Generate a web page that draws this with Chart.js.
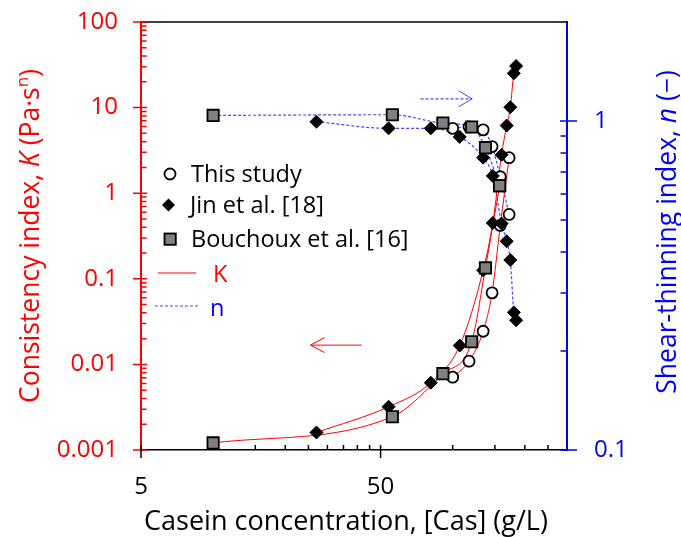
<!DOCTYPE html>
<html>
<head>
<meta charset="utf-8">
<script src="https://cdn.jsdelivr.net/npm/chart.js@4.4.0/dist/chart.umd.min.js"></script>
<style>
  html, body { margin: 0; padding: 0; background: #fff; }
  #wrap { width: 681px; height: 537px; }
</style>
</head>
<body>
<div id="wrap"><canvas id="chart" width="681" height="537"></canvas></div>
<script>
// This study
const casThis = [100, 117, 134, 146, 158, 172];
const kThis = [0.0071, 0.0109, 0.0244, 0.0685, 0.42, 2.6];
const nThis = [0.95, 0.96, 0.94, 0.836, 0.677, 0.52];

// Jin et al. [18]
const casJin = [27, 54, 81, 107, 134, 147, 160, 168, 174, 180, 184];
const kJin = [0.0016, 0.0032, 0.0061, 0.0166, 0.126, 0.449, 2.81, 6.17, 10.1, 25.2, 30.6];
const nJin = [0.995, 0.95, 0.95, 0.895, 0.774, 0.681, 0.488, 0.431, 0.378, 0.262, 0.248];

// Bouchoux et al. [16]
const casBou = [10, 56, 91, 120, 137, 157];
const kBou = [0.00121, 0.00245, 0.0078, 0.0184, 0.134, 1.22];
const nBou = [1.04, 1.045, 0.986, 0.959, 0.83, 0.636];

// axes
const xTickValues = [5, 50];
const xTickLabels = ['5', '50'];
const xMinorTicks = [15, 20, 25, 30, 35, 40, 45, 100, 150, 200, 250];
const kTickValues = [0.001, 0.01, 0.1, 1, 10, 100];
const kTickLabels = ['0.001', '0.01', '0.1', '1', '10', '100'];
const nTickValues = [0.1, 1];
const nTickLabels = ['0.1', '1'];
const nMinorTicks = [0.2, 0.3, 0.4, 0.5, 0.6, 0.7, 0.8, 0.9];

const RED = '#ff0000';
const BLUE = '#0000ff';
const DOT_BLUE = 'rgba(40,40,255,0.85)';
const FONT = '"Open Sans", sans-serif';

const pts = (xs, ys) => xs.map((x, i) => ({ x: x, y: ys[i] }));

function kLine(xs, ys) {
  return { data: pts(xs, ys), yAxisID: 'y', borderColor: RED, borderWidth: 1,
    pointRadius: 0, cubicInterpolationMode: 'monotone', order: 10 };
}
function nLine(xs, ys) {
  return { data: pts(xs, ys), yAxisID: 'y2', borderColor: DOT_BLUE, borderWidth: 1.2,
    borderDash: [3, 2], pointRadius: 0, cubicInterpolationMode: 'monotone', order: 10 };
}

const circleStyle = { pointStyle: 'circle', pointRadius: 5.5, pointBackgroundColor: '#fff',
  pointBorderColor: '#000', pointBorderWidth: 1.8, order: 3 };
const diamondStyle = { pointStyle: 'rectRot', pointRadius: 6.5, pointBackgroundColor: '#000',
  pointBorderColor: '#000', pointBorderWidth: 1, order: 2 };
const squareStyle = { pointStyle: 'rect', pointRadius: 8, pointBackgroundColor: '#808080',
  pointBorderColor: '#000', pointBorderWidth: 1.8, order: 1 };

function marks(xs, ys, axis, style) {
  return Object.assign({ data: pts(xs, ys), yAxisID: axis, showLine: false }, style);
}

// custom drawing: tick marks, top border, titles, legend, arrows
const decor = {
  id: 'decor',
  afterDraw(chart) {
    const ctx = chart.ctx;
    const a = chart.chartArea;
    const sx = chart.scales.x, sy = chart.scales.y, sn = chart.scales.y2;
    ctx.save();

    // top border
    ctx.strokeStyle = '#000';
    ctx.lineWidth = 1.3;
    ctx.beginPath();
    ctx.moveTo(a.left, a.top);
    ctx.lineTo(a.right, a.top);
    ctx.stroke();

    // left ticks
    ctx.strokeStyle = RED;
    ctx.lineWidth = 1.5;
    ctx.beginPath();
    kTickValues.forEach(v => {
      const y = sy.getPixelForValue(v);
      ctx.moveTo(a.left - 8, y); ctx.lineTo(a.left + 6, y);
      if (v < 100) {
        for (let m = 2; m <= 9; m++) {
          const ym = sy.getPixelForValue(v * m);
          ctx.moveTo(a.left, ym); ctx.lineTo(a.left + 5.5, ym);
        }
      }
    });
    ctx.stroke();

    // right ticks
    ctx.strokeStyle = BLUE;
    ctx.beginPath();
    nTickValues.forEach(v => {
      const y = sn.getPixelForValue(v);
      ctx.moveTo(a.right - 7, y); ctx.lineTo(a.right + 10, y);
    });
    nMinorTicks.forEach(v => {
      const y = sn.getPixelForValue(v);
      ctx.moveTo(a.right - 6.5, y); ctx.lineTo(a.right, y);
    });
    ctx.stroke();

    // bottom ticks
    ctx.strokeStyle = '#000';
    ctx.beginPath();
    xTickValues.forEach(v => {
      const x = sx.getPixelForValue(v);
      ctx.moveTo(x, a.bottom - 5); ctx.lineTo(x, a.bottom + 8);
    });
    xMinorTicks.forEach(v => {
      const x = sx.getPixelForValue(v);
      ctx.moveTo(x, a.bottom - 5); ctx.lineTo(x, a.bottom);
    });
    ctx.stroke();

    // axis titles
    richText(ctx, [{ t: 'Casein concentration, [Cas] (g/L)' }], 346, 530, 0, '#000', 27);
    richText(ctx, [{ t: 'Consistency index, ' }, { t: 'K', italic: true }, { t: ' (Pa·s' },
      { t: 'n', sup: true }, { t: ')' }], 39, 236, -Math.PI / 2, RED, 26.5);
    richText(ctx, [{ t: 'Shear-thinning index, ' }, { t: 'n', italic: true }, { t: ' (−)' }],
      676, 232, -Math.PI / 2, BLUE, 26.5);

    // legend
    ctx.lineWidth = 1.8;
    ctx.strokeStyle = '#000';
    ctx.fillStyle = '#fff';
    ctx.beginPath(); ctx.arc(170, 174, 5.5, 0, Math.PI * 2); ctx.fill(); ctx.stroke();
    ctx.fillStyle = '#000';
    ctx.beginPath();
    ctx.moveTo(168.5, 198.5); ctx.lineTo(175, 205); ctx.lineTo(168.5, 211.5); ctx.lineTo(162, 205);
    ctx.closePath(); ctx.fill();
    ctx.fillStyle = '#808080';
    ctx.fillRect(164.5, 233.5, 11.3, 11.3); ctx.strokeRect(164.5, 233.5, 11.3, 11.3);

    ctx.font = '23.5px ' + FONT;
    ctx.textBaseline = 'alphabetic';
    ctx.textAlign = 'left';
    ctx.fillStyle = '#000';
    ctx.fillText('This study', 191, 182);
    ctx.fillText('Jin et al. [18]', 190, 213);
    ctx.fillText('Bouchoux et al. [16]', 191, 247);
    ctx.fillStyle = RED;
    ctx.fillText('K', 213, 282);
    ctx.fillStyle = BLUE;
    ctx.fillText('n', 210, 316);

    ctx.lineWidth = 1;
    ctx.strokeStyle = RED;
    ctx.beginPath(); ctx.moveTo(158, 273); ctx.lineTo(196, 273); ctx.stroke();
    ctx.strokeStyle = DOT_BLUE;
    ctx.lineWidth = 1.2;
    ctx.setLineDash([3, 2]);
    ctx.beginPath(); ctx.moveTo(155, 306); ctx.lineTo(199, 306); ctx.stroke();

    // arrows
    const ay = sy.getPixelForValue(0.0168);
    const ax0 = sx.getPixelForValue(41.7), ax1 = sx.getPixelForValue(25.5);
    ctx.setLineDash([]);
    ctx.strokeStyle = RED;
    ctx.lineWidth = 1;
    ctx.beginPath();
    ctx.moveTo(ax0, ay); ctx.lineTo(ax1, ay);
    ctx.moveTo(ax1 + 14, ay - 7.5); ctx.lineTo(ax1, ay); ctx.lineTo(ax1 + 14, ay + 7.5);
    ctx.stroke();

    const by = sn.getPixelForValue(1.168);
    const bx0 = sx.getPixelForValue(73.4), bx1 = sx.getPixelForValue(120.5);
    ctx.strokeStyle = DOT_BLUE;
    ctx.lineWidth = 1.2;
    ctx.setLineDash([3, 2]);
    ctx.beginPath(); ctx.moveTo(bx0, by); ctx.lineTo(bx1, by); ctx.stroke();
    ctx.setLineDash([]);
    ctx.lineWidth = 1;
    ctx.beginPath();
    ctx.moveTo(bx1 - 13.5, by - 8); ctx.lineTo(bx1, by); ctx.lineTo(bx1 - 13.5, by + 8);
    ctx.stroke();

    ctx.restore();
  }
};

function richText(ctx, parts, cx, cy, angle, color, size) {
  ctx.save();
  ctx.translate(cx, cy);
  ctx.rotate(angle);
  ctx.fillStyle = color;
  ctx.textBaseline = 'alphabetic';
  ctx.textAlign = 'left';
  const fontOf = p => (p.italic ? 'italic ' : '') + (p.sup ? Math.round(size * 0.65) : size) + 'px ' + FONT;
  const widths = parts.map(p => { ctx.font = fontOf(p); return ctx.measureText(p.t).width; });
  let x = -widths.reduce((s, w) => s + w, 0) / 2;
  parts.forEach((p, i) => {
    ctx.font = fontOf(p);
    ctx.fillText(p.t, x, p.sup ? -size * 0.42 : 0);
    x += widths[i];
  });
  ctx.restore();
}

const tickFont = { family: FONT, size: 24 };

// keep the plot area fixed: no extra label padding from the scales
function noPad(s) {
  s.paddingTop = 0; s.paddingBottom = 0; s.paddingLeft = 0; s.paddingRight = 0;
}

new Chart(document.getElementById('chart'), {
  type: 'line',
  data: {
    datasets: [
      kLine(casThis, kThis), kLine(casJin, kJin), kLine(casBou, kBou),
      nLine(casThis, nThis), nLine(casJin, nJin), nLine(casBou, nBou),
      marks(casThis, kThis, 'y', circleStyle), marks(casThis, nThis, 'y2', circleStyle),
      marks(casJin, kJin, 'y', diamondStyle), marks(casJin, nJin, 'y2', diamondStyle),
      marks(casBou, kBou, 'y', squareStyle), marks(casBou, nBou, 'y2', squareStyle)
    ]
  },
  options: {
    responsive: false,
    animation: false,
    layout: { padding: { top: 22, left: 0, right: 0, bottom: 0 } },
    plugins: { legend: { display: false }, tooltip: { enabled: false } },
    scales: {
      x: {
        type: 'logarithmic', min: 5, max: 300,
        grid: { display: false, drawTicks: false },
        border: { display: true, color: '#000', width: 1.5 },
        afterBuildTicks: s => { s.ticks = xTickValues.map(v => ({ value: v })); },
        afterFit: s => { s.height = 87; noPad(s); },
        ticks: { color: '#000', font: tickFont, padding: 23, maxRotation: 0,
          callback: (v) => xTickLabels[xTickValues.indexOf(v)] }
      },
      y: {
        type: 'logarithmic', position: 'left', min: 0.001, max: 100,
        grid: { display: false, drawTicks: false },
        border: { display: true, color: RED, width: 2 },
        afterBuildTicks: s => { s.ticks = kTickValues.map(v => ({ value: v })); },
        afterFit: s => { s.width = 141; noPad(s); },
        ticks: { color: RED, font: tickFont, padding: 23,
          callback: (v) => kTickLabels[kTickValues.indexOf(v)] }
      },
      y2: {
        type: 'logarithmic', position: 'right', min: 0.1, max: 2,
        grid: { display: false, drawTicks: false },
        border: { display: true, color: BLUE, width: 2 },
        afterBuildTicks: s => { s.ticks = nTickValues.map(v => ({ value: v })); },
        afterFit: s => { s.width = 114; noPad(s); },
        ticks: { color: BLUE, font: tickFont, padding: 27,
          callback: (v) => nTickLabels[nTickValues.indexOf(v)] }
      }
    }
  },
  plugins: [decor]
});
</script>
</body>
</html>
